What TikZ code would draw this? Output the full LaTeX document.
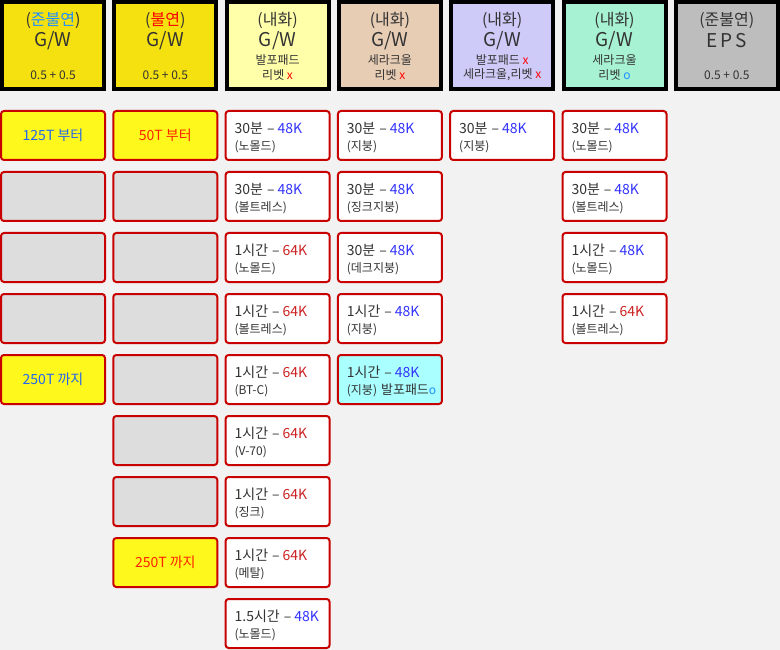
\documentclass[tikz,border=0pt]{standalone}
\usepackage{fontspec}
\setmainfont{Noto Sans CJK KR}
\usetikzlibrary{calc}
\definecolor{bg}{HTML}{F2F2F2}
\definecolor{tg}{HTML}{333333}
\definecolor{hyel}{HTML}{F5E010}
\definecolor{hlyel}{HTML}{FFFFAA}
\definecolor{hpeach}{HTML}{E8CDB5}
\definecolor{hlav}{HTML}{CFCBF8}
\definecolor{hmint}{HTML}{A6F2D2}
\definecolor{hgray}{HTML}{BDBDBD}
\definecolor{cred}{HTML}{C80000}
\definecolor{cyel}{HTML}{FFF81C}
\definecolor{cgray}{HTML}{DDDDDD}
\definecolor{ccyan}{HTML}{AAFFFF}
\definecolor{hblue}{HTML}{1E90FF}
\definecolor{hred}{HTML}{FF0000}
\definecolor{kblue}{HTML}{3333FF}
\definecolor{kred}{HTML}{CC2222}
\definecolor{tblue}{HTML}{2266EE}
\definecolor{tred}{HTML}{FF2200}
\newcommand\ent[4]{\mbox{\fontsize{14}{17}\selectfont\rule{0pt}{16pt}#1\hspace{4pt}–\hspace{3pt}\textcolor{#2}{#3}}\\\mbox{#4}}
\newcommand\fsz[1]{\fontsize{#1}{#1}\selectfont}
\begin{document}
\begin{tikzpicture}[x=1pt,y=-1pt,
  hdr/.style={draw=black, line width=4pt, minimum width=102pt, minimum height=87pt, inner sep=0pt},
  ht/.style={inner sep=0pt, text=tg},
  cell/.style={draw=cred, line width=2pt, rounded corners=3pt, minimum width=104pt, minimum height=49pt, inner sep=0pt},
  ycell/.style={cell, fill=cyel, font=\fsz{14}},
  gcell/.style={cell, fill=cgray},
  wcell/.style={cell, fill=white, align=left, text width=86pt, inner xsep=9pt, text=tg, font=\fontsize{12}{17}\selectfont},
  ccell/.style={wcell, fill=ccyan}
]
\fill[bg] (0,0) rectangle (780,650);
\useasboundingbox (0,0) rectangle (780,650);

% header boxes
\node[hdr, fill=hyel]   (h1) at (53,45.5) {};
\node[hdr, fill=hyel]   (h2) at (165.3,45.5) {};
\node[hdr, fill=hlyel]  (h3) at (277.6,45.5) {};
\node[hdr, fill=hpeach] (h4) at (389.9,45.5) {};
\node[hdr, fill=hlav]   (h5) at (502.2,45.5) {};
\node[hdr, fill=hmint]  (h6) at (614.5,45.5) {};
\node[hdr, fill=hgray]  (h7) at (726.8,45.5) {};

% header texts
\node[ht, font=\fsz{16}] (h1a) at (53,20) {(\textcolor{hblue}{준불연})};
\node[ht, font=\fsz{19}] (h1b) at (53,41) {G/W};
\node[ht, font=\fsz{12}] (h1c) at (53,75) {0.5 + 0.5};

\node[ht, font=\fsz{16}] (h2a) at (165.3,20) {(\textcolor{hred}{불연})};
\node[ht, font=\fsz{19}] (h2b) at (165.3,41) {G/W};
\node[ht, font=\fsz{12}] (h2c) at (165.3,75) {0.5 + 0.5};

\node[ht, font=\fsz{16}] (h3a) at (277.6,20) {(내화)};
\node[ht, font=\fsz{19}] (h3b) at (277.6,41) {G/W};
\node[ht, font=\fsz{12}] (h3c) at (277.6,60) {발포패드};
\node[ht, font=\fsz{12}] (h3d) at (277.6,75) {리벳 \textcolor{hred}{x}};

\node[ht, font=\fsz{16}] (h4a) at (389.9,20) {(내화)};
\node[ht, font=\fsz{19}] (h4b) at (389.9,41) {G/W};
\node[ht, font=\fsz{12}] (h4c) at (389.9,60) {세라크울};
\node[ht, font=\fsz{12}] (h4d) at (389.9,75) {리벳 \textcolor{hred}{x}};

\node[ht, font=\fsz{16}] (h5a) at (502.2,20) {(내화)};
\node[ht, font=\fsz{19}] (h5b) at (502.2,41) {G/W};
\node[ht, font=\fsz{12}] (h5c) at (502.2,60) {발포패드 \textcolor{hred}{x}};
\node[ht, font=\fsz{12}] (h5d) at (502.2,75) {세라크울,리벳 \textcolor{hred}{x}};

\node[ht, font=\fsz{16}] (h6a) at (614.5,20) {(내화)};
\node[ht, font=\fsz{19}] (h6b) at (614.5,41) {G/W};
\node[ht, font=\fsz{12}] (h6c) at (614.5,60) {세라크울};
\node[ht, font=\fsz{12}] (h6d) at (614.5,75) {리벳 \textcolor{hblue}{o}};

\node[ht, font=\fsz{16}] (h7a) at (726.8,20) {(준불연)};
\node[ht, font=\fsz{19}] (h7b) at (726.8,41) {E\,P\,S};
\node[ht, font=\fsz{12}] (h7c) at (726.8,75) {0.5 + 0.5};

% column 1
\node[ycell, text=tblue] (a0) at (53,135.5) {125T 부터};
\node[gcell] (a1) at (53,196.5) {};
\node[gcell] (a2) at (53,257.5) {};
\node[gcell] (a3) at (53,318.5) {};
\node[ycell, text=tblue] (a4) at (53,379.5) {250T 까지};

% column 2
\node[ycell, text=tred] (b0) at (165.3,135.5) {50T 부터};
\node[gcell] (b1) at (165.3,196.5) {};
\node[gcell] (b2) at (165.3,257.5) {};
\node[gcell] (b3) at (165.3,318.5) {};
\node[gcell] (b4) at (165.3,379.5) {};
\node[gcell] (b5) at (165.3,440.5) {};
\node[gcell] (b6) at (165.3,501.5) {};
\node[ycell, text=tred] (b7) at (165.3,562.5) {250T 까지};

% column 3
\node[wcell] (c0) at (277.6,135.5) {\ent{30분}{kblue}{48K}{(노몰드)}};
\node[wcell] (c1) at (277.6,196.5) {\ent{30분}{kblue}{48K}{(볼트레스)}};
\node[wcell] (c2) at (277.6,257.5) {\ent{1시간}{kred}{64K}{(노몰드)}};
\node[wcell] (c3) at (277.6,318.5) {\ent{1시간}{kred}{64K}{(볼트레스)}};
\node[wcell] (c4) at (277.6,379.5) {\ent{1시간}{kred}{64K}{(BT-C)}};
\node[wcell] (c5) at (277.6,440.5) {\ent{1시간}{kred}{64K}{(V-70)}};
\node[wcell] (c6) at (277.6,501.5) {\ent{1시간}{kred}{64K}{(징크)}};
\node[wcell] (c7) at (277.6,562.5) {\ent{1시간}{kred}{64K}{(메탈)}};
\node[wcell] (c8) at (277.6,623.5) {\ent{1.5시간}{kblue}{48K}{(노몰드)}};

% column 4
\node[wcell] (d0) at (389.9,135.5) {\ent{30분}{kblue}{48K}{(지붕)}};
\node[wcell] (d1) at (389.9,196.5) {\ent{30분}{kblue}{48K}{(징크지붕)}};
\node[wcell] (d2) at (389.9,257.5) {\ent{30분}{kblue}{48K}{(데크지붕)}};
\node[wcell] (d3) at (389.9,318.5) {\ent{1시간}{kblue}{48K}{(지붕)}};
\node[ccell] (d4) at (389.9,379.5) {\ent{1시간}{kblue}{48K}{(지붕) {\fsz{13}발포패드}\textcolor{hblue}{o}}};

% column 5
\node[wcell] (e0) at (502.2,135.5) {\ent{30분}{kblue}{48K}{(지붕)}};

% column 6
\node[wcell] (f0) at (614.5,135.5) {\ent{30분}{kblue}{48K}{(노몰드)}};
\node[wcell] (f1) at (614.5,196.5) {\ent{30분}{kblue}{48K}{(볼트레스)}};
\node[wcell] (f2) at (614.5,257.5) {\ent{1시간}{kblue}{48K}{(노몰드)}};
\node[wcell] (f3) at (614.5,318.5) {\ent{1시간}{kred}{64K}{(볼트레스)}};
\end{tikzpicture}
\end{document}
